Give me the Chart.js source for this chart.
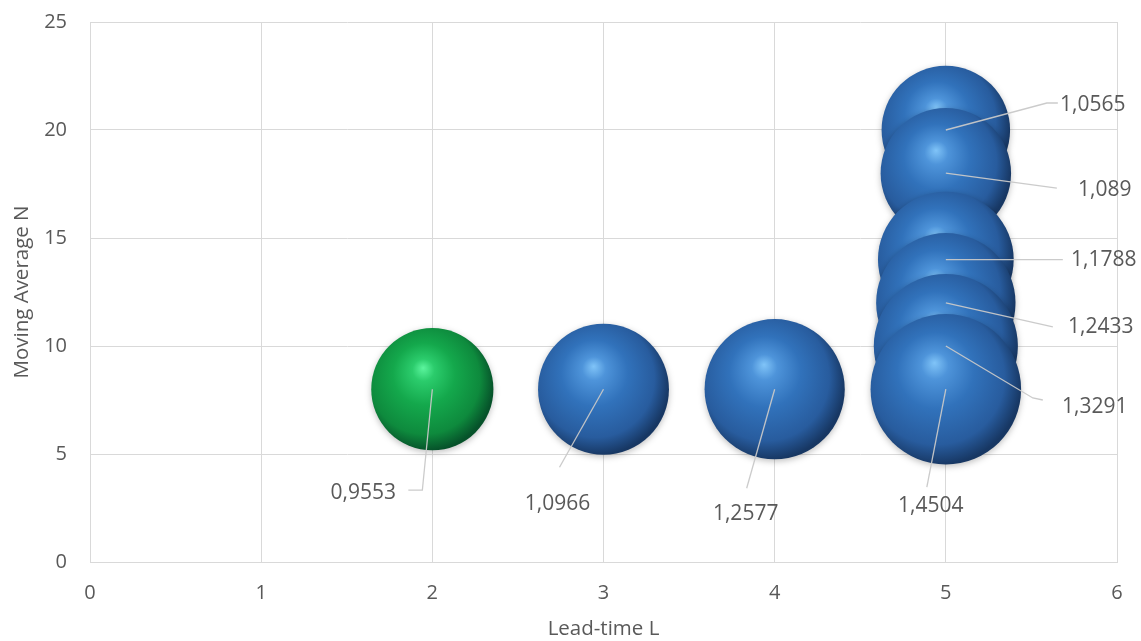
<!DOCTYPE html>
<html>
<head>
<meta charset="utf-8">
<title>Lead-time vs Moving Average</title>
<script src="https://cdn.jsdelivr.net/npm/chart.js@4/dist/chart.umd.min.js"></script>
<style>
  html, body { margin: 0; padding: 0; background: #fff; }
  #wrap { width: 1141px; height: 641px; }
</style>
</head>
<body>
<div id="wrap"><canvas id="bubble-chart" width="1141" height="641"></canvas></div>
<script>
  'use strict';

  // Data.
  const leadTime = [2, 3, 4, 5, 5, 5, 5, 5, 5];
  const movingAvg = [8, 8, 8, 20, 18, 14, 12, 10, 8];
  const ratio = [0.9553, 1.0966, 1.2577, 1.0565, 1.089, 1.1788, 1.2433, 1.3291, 1.4504];
  const xTicks = [0, 1, 2, 3, 4, 5, 6];
  const yTicks = [0, 5, 10, 15, 20, 25];

  /**
   * Color palette.
   */
  const COLORS = {
    text: '#595959',
    grid: '#d9d9d9',
    leader: 'rgba(200, 200, 200, 0.95)',
    blue: ['#80c4f8', '#4e94da', '#3172bb', '#285c9e', '#173763'],
    green: ['#5cf59e', '#2bcc6c', '#14a84c', '#0e8a3d', '#06522a']
  };

  const FAMILY = '"Open Sans", "DejaVu Sans", sans-serif';
  const TICK_FONT = { family: FAMILY, size: 20 };
  const TITLE_FONT = { family: FAMILY, size: 20.5 };

  // Bubble area proportional to the value (pixel radius per sqrt unit).
  const RADIUS_SCALE = 62.5;

  // Where each data label sits, relative to its bubble center (pixels).
  const LABEL_LAYOUT = [
    { text: [-69, 104], leader: [[-10, 101], [-24, 101]] },
    { text: [-46, 115], leader: [[-44, 78]] },
    { text: [-29, 125], leader: [[-28, 99]] },
    { text: [147, -25], leader: [[101, -27], [112, -27]] },
    { text: [159, 17], leader: [[111, 15]] },
    { text: [158, 0], leader: [[117, 0]] },
    { text: [155, 24], leader: [[107, 24]] },
    { text: [149, 61], leader: [[87, 52], [97, 54]] },
    { text: [-15, 117], leader: [[-19, 98]] }
  ];

  const minRatio = Math.min.apply(null, ratio);

  function formatValue(v) {
    return String(v).replace('.', ',');
  }

  /**
   * Shaded sphere fill for a bubble.
   */
  function sphereFill(context) {
    const chart = context.chart;
    const raw = context.raw;
    const palette = ratio[context.dataIndex] === minRatio ? COLORS.green : COLORS.blue;
    if (!raw || !chart.scales.x || !chart.chartArea) {
      return palette[2];
    }
    const x = chart.scales.x.getPixelForValue(raw.x);
    const y = chart.scales.y.getPixelForValue(raw.y);
    const r = raw.r;
    const g = chart.ctx.createRadialGradient(
      x - 0.15 * r, y - 0.35 * r, 0,
      x - 0.12 * r, y - 0.12 * r, 1.13 * r
    );
    g.addColorStop(0, palette[0]);
    g.addColorStop(0.16, palette[1]);
    g.addColorStop(0.45, palette[2]);
    g.addColorStop(0.8, palette[3]);
    g.addColorStop(1, palette[4]);
    return g;
  }

  /**
   * Soft shadow under the spheres.
   */
  const shadowPlugin = {
    id: 'sphereShadow',
    beforeDatasetDraw: function (chart) {
      const ctx = chart.ctx;
      ctx.save();
      ctx.shadowColor = 'rgba(0, 0, 0, 0.25)';
      ctx.shadowBlur = 6;
      ctx.shadowOffsetY = 2;
    },
    afterDatasetDraw: function (chart) {
      chart.ctx.restore();
    }
  };

  /**
   * Data labels with leader lines.
   */
  const labelPlugin = {
    id: 'leaderLabels',
    afterDatasetsDraw: function (chart) {
      const ctx = chart.ctx;
      const meta = chart.getDatasetMeta(0);
      ctx.save();
      meta.data.forEach(function (el, i) {
        const layout = LABEL_LAYOUT[i];
        const cx = el.x;
        const cy = el.y;
        ctx.beginPath();
        ctx.moveTo(cx, cy);
        layout.leader.forEach(function (p) {
          ctx.lineTo(cx + p[0], cy + p[1]);
        });
        ctx.strokeStyle = COLORS.leader;
        ctx.lineWidth = 1.3;
        ctx.stroke();

        ctx.font = '21px ' + FAMILY;
        ctx.fillStyle = COLORS.text;
        ctx.textAlign = 'center';
        ctx.textBaseline = 'middle';
        ctx.fillText(formatValue(ratio[i]), cx + layout.text[0], cy + layout.text[1]);
      });
      ctx.restore();
    }
  };

  const points = leadTime.map(function (x, i) {
    return { x: x, y: movingAvg[i], r: RADIUS_SCALE * Math.sqrt(ratio[i]) };
  });

  const ctx = document.getElementById('bubble-chart').getContext('2d');
  new Chart(ctx, {
    type: 'bubble',
    data: {
      datasets: [{
        label: 'Ratio',
        data: points,
        backgroundColor: sphereFill,
        hoverBackgroundColor: sphereFill,
        borderWidth: 0,
        hoverBorderWidth: 0
      }]
    },
    options: {
      responsive: false,
      animation: false,
      events: [],
      layout: {
        autoPadding: false,
        padding: { top: 22, right: 24, left: 0, bottom: 0 }
      },
      plugins: {
        legend: { display: false },
        tooltip: { enabled: false }
      },
      scales: {
        x: {
          type: 'linear',
          min: xTicks[0],
          max: xTicks[xTicks.length - 1],
          afterBuildTicks: function (scale) {
            scale.ticks = xTicks.map(function (v) { return { value: v }; });
          },
          afterFit: function (scale) {
            scale.height = 79;
            scale.paddingLeft = 0;
            scale.paddingRight = 0;
          },
          grid: { color: COLORS.grid, lineWidth: 1, drawTicks: false },
          border: { color: COLORS.grid },
          ticks: { color: COLORS.text, font: TICK_FONT, padding: 19, maxRotation: 0 },
          title: {
            display: true,
            text: 'Lead-time L',
            color: COLORS.text,
            font: TITLE_FONT,
            padding: { top: 0, bottom: 0 }
          }
        },
        y: {
          type: 'linear',
          min: yTicks[0],
          max: yTicks[yTicks.length - 1],
          afterBuildTicks: function (scale) {
            scale.ticks = yTicks.map(function (v) { return { value: v }; });
          },
          afterFit: function (scale) {
            scale.width = 90;
            scale.paddingTop = 0;
            scale.paddingBottom = 0;
          },
          grid: { color: COLORS.grid, lineWidth: 1, drawTicks: false },
          border: { color: COLORS.grid },
          ticks: { color: COLORS.text, font: TICK_FONT, padding: 23 },
          title: {
            display: true,
            text: 'Moving Average N',
            color: COLORS.text,
            font: TITLE_FONT,
            padding: { top: 10, bottom: 0 }
          }
        }
      }
    },
    plugins: [shadowPlugin, labelPlugin]
  });
</script>
</body>
</html>
